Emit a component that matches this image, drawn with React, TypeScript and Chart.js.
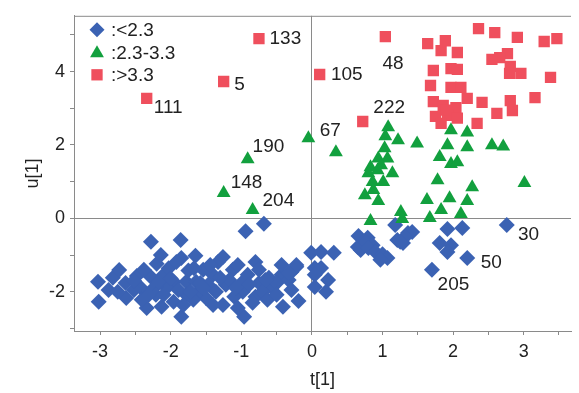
import React, { useEffect, useRef } from 'react';
import { Chart, registerables } from 'chart.js';

Chart.register(...registerables);

// Group "<2.3" (blue diamonds)
const lowT = [
  -3.03, -3.02, -2.82, -2.88, -2.64, -2.63, -2.48, -2.28, -1.86, -1.85, -1.85, -1.65,
  -2.20, -2.10, -2.28, -2.34, -2.13, -2.42, -2.24, -1.96, -1.78, -1.64, -1.78, -1.96,
  -2.21, -2.41, -0.94, -0.68, -1.26, -0.80, -1.12, -0.22, -0.43, -0.61, -1.40, -1.58,
  -1.22, -0.98, -0.75, -0.57, -1.50, -1.26, -0.98, -0.80, -1.10, -0.84, -0.96, -0.41,
  -0.19, -1.65, -2.75, -2.52, -2.38, -2.06, -2.03, -1.75, -1.54, -1.47, -1.36, -1.17,
  -0.91, -0.70, -0.50, -0.33, -1.68, -1.40, -1.05, -0.63, -1.82, -2.17, -1.33, -1.05,
  -0.75, -0.43, -0.29, -1.89,
  -2.73, -2.52, -2.31, -2.10, -2.00, -1.72, -1.54, -1.30, -1.08, -0.89, -0.66, -0.50,
  -0.29, -1.44, -1.67, -1.92, -2.14,
  -0.01, 0.13, 0.31, -0.22, -0.33, 0.04, 0.13, 0.04, 0.23, 0.04, 0.20, 0.66, 0.79,
  0.69, 0.65, 0.76, 0.86, 0.80, 0.90, 1.00, 1.07, 0.97, 1.18, 1.21, 1.29, 1.36, 1.42,
  1.32, 1.25, 1.92, 2.13, 1.81, 1.97, 1.92, 2.20, 1.70, 2.76,
];
const lowU = [
  -1.73, -2.27, -1.62, -1.95, -1.76, -2.17, -1.57, -0.64, -0.59, -1.08, -2.68, -1.02,
  -1.24, -1.54, -1.60, -2.44, -2.41, -1.90, -1.90, -1.73, -1.73, -1.73, -2.08, -2.27,
  -2.08, -2.22, -0.35, -0.15, -1.05, -1.19, -1.40, -1.32, -1.54, -1.62, -1.54, -1.76,
  -1.81, -1.73, -1.76, -1.89, -2.17, -2.36, -2.00, -2.14, -2.14, -2.30, -2.68, -2.41,
  -2.25, -2.08, -2.00, -1.95, -1.40, -1.90, -1.36, -1.42, -1.40, -1.81, -2.00, -1.68,
  -1.54, -2.00, -1.76, -1.68, -2.22, -2.36, -2.44, -2.22, -2.36, -1.73, -1.19, -1.27,
  -1.40, -1.27, -1.46, -1.95,
  -1.41, -1.70, -2.08, -2.08, -1.64, -2.00, -1.89, -1.62, -1.89, -1.81, -1.68, -2.08,
  -1.95, -1.27, -1.36, -1.19, -1.00,
  -0.94, -0.92, -0.94, -1.27, -1.49, -1.35, -1.35, -1.54, -1.68, -1.87, -2.00, -0.48,
  -0.53, -0.86, -0.78, -0.64, -0.73, -0.81, -0.92, -0.98, -1.08, -1.13, -0.18, -0.59,
  -0.67, -0.40, -0.37, -0.51, -0.64, -0.29, -0.26, -0.67, -0.73, -0.92, -1.08, -1.40,
  -0.18,
];

// Group "2.3-3.3" (green triangles)
const midT = [
  -0.91, -1.25, -0.84, -0.05, 0.34, 1.08, 1.04, 1.22, 1.49, 1.03, 0.94, 1.07, 0.83,
  0.93, 1.14, 0.80, 0.86, 1.01, 0.75, 0.94, 0.83, 1.26, 1.28, 1.63, 1.67, 1.97, 2.20,
  1.92, 2.20, 2.55, 2.71, 1.81, 1.97, 2.06, 1.78, 2.27, 3.01, 1.95, 2.20, 1.83, 2.11,
  0.98, 0.87,
];
const midU = [
  1.61, 0.69, 0.23, 2.18, 1.80, 2.48, 2.24, 2.13, 2.04, 1.91, 1.63, 1.63, 1.39, 1.31,
  1.23, 1.23, 0.99, 0.99, 0.63, 0.47, -0.07, 0.17, -0.02, 0.50, 0.01, 2.40, 2.34, 1.99,
  1.94, 1.99, 1.96, 1.67, 1.48, 1.53, 1.04, 0.85, 0.96, 0.55, 0.47, 0.23, 0.12, 1.45,
  0.77,
];

// Group ">3.3" (red squares)
const highT = [
  -0.75, -1.25, -2.34, 0.11, 1.04, 0.72, 2.36, 2.59, 2.91, 3.29, 3.47, 1.64, 1.89,
  1.83, 2.06, 2.77, 2.66, 2.55, 2.81, 2.80, 2.96, 3.38, 1.72, 1.97, 2.06, 1.68, 1.97,
  2.11, 2.20, 2.41, 2.81, 3.16, 1.72, 1.86, 2.04, 2.62, 2.84, 1.75, 1.92, 2.06, 1.83,
  2.34, 1.90,
];
const highU = [
  4.90, 3.73, 3.27, 3.92, 4.95, 2.64, 5.17, 5.06, 4.93, 4.82, 4.90, 4.76, 4.84, 4.57,
  4.52, 4.49, 4.38, 4.33, 4.14, 3.95, 3.95, 3.84, 4.03, 4.08, 4.06, 3.62, 3.57, 3.57,
  3.27, 3.16, 3.21, 3.29, 3.18, 3.08, 3.02, 2.86, 2.94, 2.78, 2.81, 2.73, 2.59, 2.59,
  2.95,
];

// Observation labels
const obsLabels = ['133', '5', '111', '105', '48', '222', '67', '190', '148', '204', '30', '50', '205'];
const obsT = [-0.60, -1.10, -2.24, 0.27, 1.00, 0.87, 0.11, -0.84, -1.15, -0.70, 2.92, 2.39, 1.78];
const obsU = [4.90, 3.65, 3.02, 3.92, 4.22, 3.02, 2.40, 1.94, 0.96, 0.47, -0.45, -1.21, -1.81];

const legendLabels = [':<2.3', ':2.3-3.3', ':>3.3'];

const BLUE = '#3b62b3';
const GREEN = '#12a03e';
const RED = '#ef4f5d';
const AXIS = '#8a8a8a';
const TEXT = '#222222';
const FONT = 'Arial, "Liberation Sans", sans-serif';

const toPts = (t: number[], u: number[]) => t.map((v, i) => ({ x: v, y: u[i] }));

function drawMarker(ctx: CanvasRenderingContext2D, kind: string, x: number, y: number, r: number) {
  ctx.beginPath();
  if (kind === 'rectRot') {
    ctx.moveTo(x - r, y);
    ctx.lineTo(x, y - r);
    ctx.lineTo(x + r, y);
    ctx.lineTo(x, y + r);
  } else if (kind === 'triangle') {
    let a = 0;
    ctx.moveTo(x + Math.sin(a) * r, y - Math.cos(a) * r);
    a += (2 * Math.PI) / 3;
    ctx.lineTo(x + Math.sin(a) * r, y - Math.cos(a) * r);
    a += (2 * Math.PI) / 3;
    ctx.lineTo(x + Math.sin(a) * r, y - Math.cos(a) * r);
  } else {
    const s = Math.SQRT1_2 * r;
    ctx.rect(x - s, y - s, 2 * s, 2 * s);
  }
  ctx.closePath();
  ctx.fill();
}

const overlayPlugin = {
  id: 'overlay',
  afterDatasetsDraw(chart: any) {
    const { ctx, chartArea, scales } = chart;
    const xs = scales.x;
    const ys = scales.y;
    ctx.save();
    // top frame line
    ctx.strokeStyle = AXIS;
    ctx.lineWidth = 1;
    ctx.beginPath();
    ctx.moveTo(chartArea.left, chartArea.top + 0.5);
    ctx.lineTo(chartArea.right, chartArea.top + 0.5);
    ctx.stroke();

    // observation labels
    ctx.fillStyle = TEXT;
    ctx.font = `19px ${FONT}`;
    ctx.textAlign = 'left';
    ctx.textBaseline = 'middle';
    obsLabels.forEach((s, i) => {
      ctx.fillText(s, xs.getPixelForValue(obsT[i]), ys.getPixelForValue(obsU[i]));
    });

    // legend
    const kinds = ['rectRot', 'triangle', 'rect'];
    const colors = [BLUE, GREEN, RED];
    const radii = [7.5, 8, 8];
    const lx = chartArea.left + 23;
    const ly = chartArea.top + 14;
    legendLabels.forEach((s, i) => {
      const yy = ly + i * 22.5;
      ctx.fillStyle = colors[i];
      drawMarker(ctx, kinds[i], lx, yy + (i === 1 ? 1 : 0), radii[i]);
      ctx.fillStyle = TEXT;
      ctx.fillText(s, lx + 14, yy + 1);
    });
    ctx.restore();
  },
};

export default function App() {
  const ref = useRef<HTMLCanvasElement>(null);
  useEffect(() => {
    if (!ref.current) return;
    const gridColor = (c: any) => (c.tick && c.tick.value === 0 ? AXIS : 'rgba(0,0,0,0)');
    const chart = new Chart(ref.current, {
      type: 'scatter',
      data: {
        datasets: [
          {
            label: ':>3.3',
            data: toPts(highT, highU),
            pointStyle: 'rect',
            pointRadius: 8,
            backgroundColor: RED,
            borderWidth: 0,
          },
          {
            label: ':2.3-3.3',
            data: toPts(midT, midU),
            pointStyle: 'triangle',
            pointRadius: 8,
            backgroundColor: GREEN,
            borderWidth: 0,
          },
          {
            label: ':<2.3',
            data: toPts(lowT, lowU),
            pointStyle: 'rectRot',
            pointRadius: 8,
            backgroundColor: BLUE,
            borderWidth: 0,
          },
        ],
      },
      options: {
        animation: false,
        responsive: false,
        maintainAspectRatio: false,
        layout: { padding: { top: 15, right: 0, left: 0, bottom: 0 } },
        plugins: { legend: { display: false }, tooltip: { enabled: false } },
        scales: {
          x: {
            type: 'linear',
            min: -3.37,
            max: 3.67,
            afterFit: (s: any) => {
              s.height = 62;
            },
            border: { display: true, color: AXIS, width: 1 },
            grid: { color: gridColor, tickColor: AXIS, tickLength: 4, drawTicks: true, lineWidth: 1 },
            ticks: {
              stepSize: 0.5,
              includeBounds: false,
              autoSkip: false,
              maxRotation: 0,
              padding: 6,
              color: TEXT,
              font: { family: FONT, size: 18 },
              callback: (v: any) => (Number.isInteger(Number(v)) ? String(v) : ''),
            },
            title: {
              display: true,
              text: 't[1]',
              color: TEXT,
              font: { family: FONT, size: 18 },
              padding: { top: 0, bottom: 2 },
            },
          },
          y: {
            type: 'linear',
            min: -3.07,
            max: 5.52,
            afterFit: (s: any) => {
              s.width = 74;
            },
            border: { display: true, color: AXIS, width: 1 },
            grid: { color: gridColor, tickColor: AXIS, tickLength: 4, drawTicks: true, lineWidth: 1 },
            ticks: {
              stepSize: 1,
              includeBounds: false,
              autoSkip: false,
              padding: 5,
              color: TEXT,
              font: { family: FONT, size: 18 },
              callback: (v: any) => (Number(v) % 2 === 0 ? String(v) : ''),
            },
            title: {
              display: true,
              text: 'u[1]',
              color: TEXT,
              font: { family: FONT, size: 18 },
              padding: { top: 22, bottom: 0 },
            },
          },
        },
      },
      plugins: [overlayPlugin],
    });
    return () => chart.destroy();
  }, []);

  return (
    <div style={{ position: 'fixed', left: 0, top: 0, width: 579, height: 393, background: '#fff' }}>
      <canvas ref={ref} width={579} height={393} style={{ display: 'block', width: 579, height: 393 }} />
    </div>
  );
}
